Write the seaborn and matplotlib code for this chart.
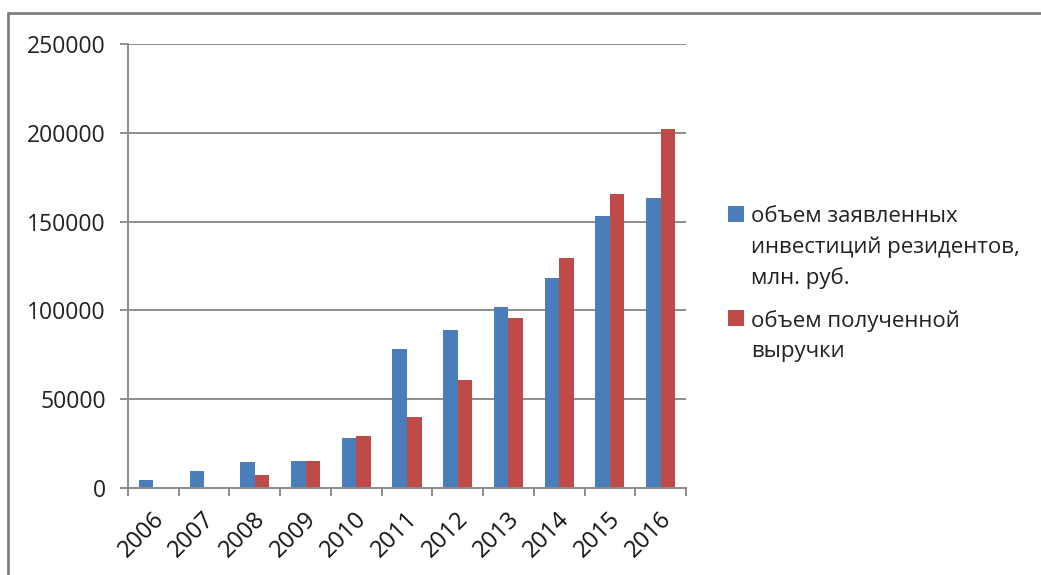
import pandas as pd
import matplotlib
matplotlib.use("Agg")
import matplotlib.pyplot as plt
import matplotlib.transforms as mtransforms
from matplotlib.lines import Line2D
import seaborn as sns

sns.set_theme(style="white")
plt.rcParams['font.family'] = ['Open Sans', 'DejaVu Sans']

# Data
years = ['2006', '2007', '2008', '2009', '2010', '2011',
         '2012', '2013', '2014', '2015', '2016']
investments = [4500, 9500, 14600, 15300, 28300, 78300,
               88900, 102000, 118500, 153400, 163500]
revenue = [0, 0, 7300, 15300, 29200, 39900,
           60800, 95500, 129600, 165500, 202400]
series_names = ['объем заявленных\nинвестиций резидентов,\nмлн. руб.',
                'объем полученной\nвыручки']
colors = ['#4A7EBB', '#BE4B48']

df = pd.DataFrame({
    'year': years * 2,
    'value': investments + revenue,
    'series': [series_names[0]] * len(years) + [series_names[1]] * len(years),
})

fig = plt.figure(figsize=(10.41, 5.75), dpi=100)
ax = fig.add_axes([128 / 1041, 1 - 488 / 575, (686 - 128) / 1041, (488 - 44) / 575])

sns.barplot(data=df, x='year', y='value', hue='series', palette=colors,
            width=0.572, saturation=1, linewidth=0, ax=ax)

grid_color = '#8C8C8C'
ax.set_xlim(-0.5, len(years) - 0.5)
ax.set_ylim(0, 250000)
ax.set_yticks(range(0, 250001, 50000))
ax.set_yticklabels([str(v) for v in range(0, 250001, 50000)], fontsize=16.5, color='#222222')
ax.yaxis.grid(True, color=grid_color, linewidth=1.4)
ax.set_axisbelow(True)
ax.tick_params(axis='y', length=6, width=1.4, color=grid_color, pad=10, left=True)

# category boundary ticks on x
ax.set_xticks([i - 0.5 for i in range(len(years) + 1)], minor=True)
ax.tick_params(axis='x', which='minor', length=6, width=1.4, color=grid_color, bottom=True)
ax.tick_params(axis='x', which='major', length=0, pad=20)
offset = mtransforms.ScaledTranslation(7 / 100, 0, fig.dpi_scale_trans)
for lbl in ax.get_xticklabels():
    lbl.set_rotation(45)
    lbl.set_ha('right')
    lbl.set_va('center')
    lbl.set_rotation_mode('anchor')
    lbl.set_fontsize(17)
    lbl.set_color('#111111')
    lbl.set_transform(lbl.get_transform() + offset)

ax.set_xlabel('')
ax.set_ylabel('')
for side in ['top', 'right']:
    ax.spines[side].set_visible(False)
for side in ['left', 'bottom']:
    ax.spines[side].set_color(grid_color)
    ax.spines[side].set_linewidth(1.4)

handles, labels = ax.get_legend_handles_labels()
ax.get_legend().remove()
leg = fig.legend(handles, labels, loc='center left', bbox_to_anchor=(0.689, 0.506),
                 frameon=False, fontsize=16, handlelength=0.72, handleheight=0.72,
                 handletextpad=0.3, labelspacing=0.95, borderpad=0)
for t in leg.get_texts():
    t.set_linespacing(1.55)
    t.set_color('#222222')
for col in leg._legend_handle_box.get_children():
    for row in col.get_children():
        row.align = 'top'

# outer frame (top and left edges visible)
fig.add_artist(Line2D([8 / 1041, 8 / 1041], [0, 1 - 13 / 575], color='#808080', linewidth=2))
fig.add_artist(Line2D([8 / 1041, 1], [1 - 13 / 575, 1 - 13 / 575], color='#808080', linewidth=2))

fig.savefig('out.png', dpi=100)
